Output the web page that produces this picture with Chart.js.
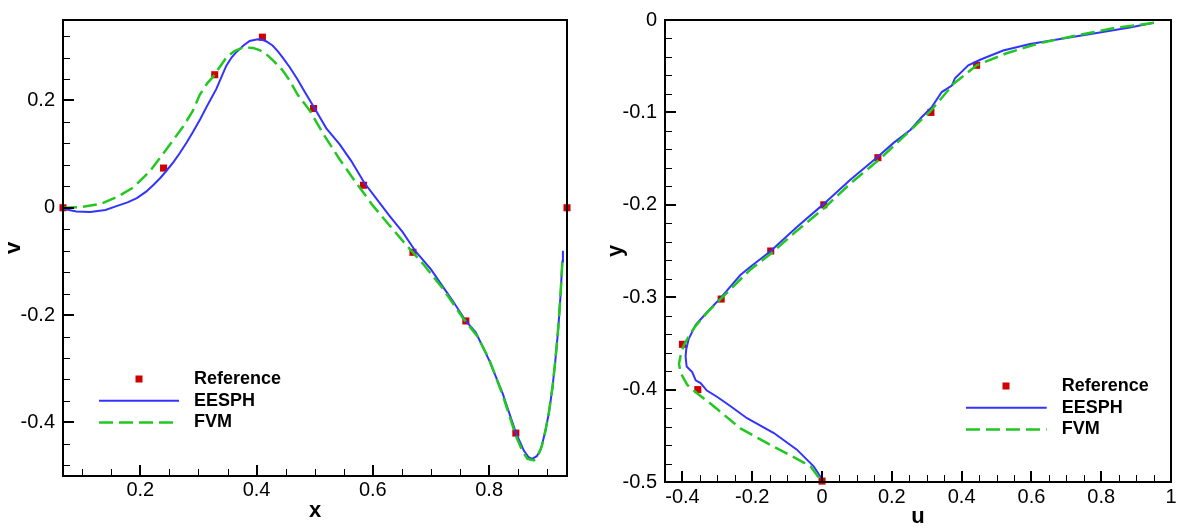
<!DOCTYPE html>
<html>
<head>
<meta charset="utf-8">
<script src="https://cdn.jsdelivr.net/npm/chart.js@4.4.1/dist/chart.umd.min.js"></script>
<style>
  html, body { margin: 0; padding: 0; background: #fff; }
  #wrap { position: relative; width: 1181px; height: 530px; background: #fff; }
  canvas { position: absolute; top: 0; }
</style>
</head>
<body>
<div id="wrap">
  <canvas id="c1" width="590" height="530" style="left:0;width:590px;height:530px"></canvas>
  <canvas id="c2" width="591" height="530" style="left:590px;width:591px;height:530px"></canvas>
</div>
<script>
// ---------- Left panel: v along x ----------
const leftXTicks = [0.2, 0.4, 0.6, 0.8];
const leftYTicks = [-0.4, -0.2, 0, 0.2];
const leftRefX = [0.067, 0.240, 0.328, 0.410, 0.498, 0.584, 0.669, 0.760, 0.846, 0.934];
const leftRefV = [0.000, 0.074, 0.248, 0.318, 0.185, 0.042, -0.083, -0.211, -0.420, 0.000];
const leftEesphX = [0.067,0.090,0.114,0.140,0.159,0.178,0.194,0.210,0.222,0.234,0.245,0.257,0.268,0.280,0.291,0.303,0.314,0.323,0.331,0.340,0.348,0.357,0.365,0.377,0.388,0.402,0.410,0.417,0.428,0.437,0.445,0.457,0.470,0.483,0.500,0.520,0.543,0.563,0.585,0.611,0.628,0.651,0.674,0.700,0.737,0.760,0.777,0.800,0.823,0.846,0.860,0.868,0.874,0.882,0.889,0.896,0.903,0.909,0.914,0.919,0.923,0.926,0.927];
const leftEesphV = [-0.002,-0.007,-0.008,-0.004,0.003,0.010,0.018,0.030,0.042,0.055,0.069,0.085,0.102,0.122,0.142,0.165,0.188,0.206,0.222,0.245,0.265,0.280,0.290,0.302,0.311,0.314,0.313,0.310,0.302,0.291,0.280,0.262,0.240,0.216,0.185,0.148,0.118,0.087,0.047,0.010,-0.014,-0.045,-0.082,-0.115,-0.173,-0.211,-0.232,-0.284,-0.345,-0.419,-0.453,-0.465,-0.468,-0.463,-0.450,-0.420,-0.382,-0.335,-0.284,-0.225,-0.161,-0.100,-0.080];
const leftFvmX = [0.067,0.097,0.131,0.160,0.188,0.217,0.245,0.274,0.290,0.302,0.315,0.325,0.337,0.348,0.362,0.377,0.394,0.405,0.417,0.430,0.445,0.457,0.471,0.491,0.514,0.543,0.571,0.600,0.628,0.657,0.686,0.720,0.754,0.780,0.800,0.823,0.846,0.858,0.866,0.877,0.885,0.891,0.897,0.903,0.909,0.914,0.919,0.923,0.926];
const leftFvmV = [0.000,0.001,0.007,0.020,0.038,0.069,0.109,0.152,0.180,0.210,0.232,0.244,0.263,0.280,0.292,0.299,0.298,0.294,0.286,0.273,0.256,0.237,0.210,0.182,0.139,0.090,0.047,0.004,-0.032,-0.069,-0.104,-0.150,-0.204,-0.240,-0.282,-0.348,-0.425,-0.455,-0.468,-0.471,-0.460,-0.443,-0.415,-0.380,-0.335,-0.284,-0.222,-0.160,-0.100];

// ---------- Right panel: u along y ----------
const rightXTicks = [-0.4, -0.2, 0, 0.2, 0.4, 0.6, 0.8, 1];
const rightYTicks = [-0.5, -0.4, -0.3, -0.2, -0.1, 0];
const rightRefU = [0.443, 0.312, 0.160, 0.005, -0.147, -0.289, -0.400, -0.356, 0.000];
const rightRefY = [-0.049, -0.100, -0.149, -0.200, -0.250, -0.302, -0.351, -0.400, -0.499];
const rightEesphU = [0.951,0.882,0.787,0.691,0.596,0.519,0.453,0.419,0.381,0.372,0.343,0.315,0.286,0.253,0.205,0.160,0.081,0.005,-0.072,-0.147,-0.205,-0.234,-0.291,-0.329,-0.362,-0.382,-0.389,-0.391,-0.388,-0.372,-0.362,-0.348,-0.330,-0.300,-0.262,-0.215,-0.138,-0.072,-0.024,0.000];
const rightEesphY = [-0.003,-0.008,-0.014,-0.020,-0.026,-0.033,-0.043,-0.049,-0.063,-0.071,-0.078,-0.094,-0.105,-0.119,-0.133,-0.148,-0.173,-0.199,-0.224,-0.250,-0.267,-0.276,-0.301,-0.316,-0.330,-0.345,-0.356,-0.364,-0.375,-0.381,-0.390,-0.393,-0.401,-0.408,-0.418,-0.431,-0.447,-0.465,-0.483,-0.497];
const rightFvmU = [0.951,0.834,0.739,0.624,0.529,0.443,0.377,0.310,0.243,0.167,0.081,0.005,-0.072,-0.147,-0.205,-0.291,-0.330,-0.362,-0.377,-0.396,-0.405,-0.410,-0.405,-0.386,-0.358,-0.320,-0.234,-0.157,-0.081,-0.033,0.000];
const rightFvmY = [-0.003,-0.009,-0.016,-0.025,-0.036,-0.049,-0.069,-0.099,-0.123,-0.150,-0.177,-0.204,-0.228,-0.253,-0.270,-0.302,-0.317,-0.331,-0.339,-0.352,-0.363,-0.372,-0.382,-0.395,-0.404,-0.415,-0.442,-0.458,-0.473,-0.483,-0.500];

const seriesLabels = ['Reference', 'EESPH', 'FVM'];
const RED = '#d00000', BLUE = '#3333ff', GREEN = '#22c822';
const FONT = "'Liberation Sans', Arial, sans-serif";

function pts(xs, ys) { return xs.map((x, i) => ({ x: x, y: ys[i] })); }
function minorRange(a, b, step, majors) {
  const out = [];
  const n = Math.round((b - a) / step);
  for (let i = 0; i <= n; i++) {
    const v = +(a + i * step).toFixed(4);
    if (!majors.some(m => Math.abs(m - v) < 1e-6)) out.push(v);
  }
  return out;
}
function fmt(v) { return String(+(+v).toFixed(2)); }

const decorPlugin = {
  id: 'decor',
  afterDraw(chart, args, o) {
    const ctx = chart.ctx, a = chart.chartArea;
    const xs = chart.scales.x, ys = chart.scales.y;
    ctx.save();
    ctx.strokeStyle = '#000';
    ctx.lineCap = 'butt';
    ctx.lineWidth = 2;
    o.yMajor.forEach(v => { const p = Math.round(ys.getPixelForValue(v)); ctx.beginPath(); ctx.moveTo(a.left, p); ctx.lineTo(a.left + o.majorLen, p); ctx.stroke(); });
    o.xMajor.forEach(v => { const p = Math.round(xs.getPixelForValue(v)); ctx.beginPath(); ctx.moveTo(p, a.bottom); ctx.lineTo(p, a.bottom - o.majorLen); ctx.stroke(); });
    ctx.lineWidth = 1;
    o.yMinor.forEach(v => { const p = Math.round(ys.getPixelForValue(v)) + 0.5; ctx.beginPath(); ctx.moveTo(a.left, p); ctx.lineTo(a.left + o.minorLen, p); ctx.stroke(); });
    o.xMinor.forEach(v => { const p = Math.round(xs.getPixelForValue(v)) + 0.5; ctx.beginPath(); ctx.moveTo(p, a.bottom); ctx.lineTo(p, a.bottom - o.minorLen); ctx.stroke(); });
    ctx.lineWidth = 2;
    ctx.strokeRect(a.left, a.top, a.right - a.left, a.bottom - a.top);
    const L = o.legend;
    chart.data.datasets.forEach((ds, i) => {
      const y = L.y + i * L.rowGap;
      if (ds.showLine === false) {
        ctx.fillStyle = ds.backgroundColor;
        ctx.fillRect(L.markerX - 3.5, y - 3.5, 7, 7);
      } else {
        ctx.strokeStyle = ds.borderColor;
        ctx.lineWidth = ds.borderWidth;
        ctx.setLineDash(ds.borderDash || []);
        ctx.beginPath(); ctx.moveTo(L.lineX0, y); ctx.lineTo(L.lineX1, y); ctx.stroke();
        ctx.setLineDash([]);
      }
      ctx.fillStyle = '#000';
      ctx.font = 'bold 18px ' + FONT;
      ctx.textBaseline = 'middle';
      ctx.textAlign = 'left';
      ctx.fillText(ds.label, L.textX, y);
    });
    ctx.restore();
  }
};

function datasets(refX, refY, eX, eY, fX, fY) {
  return [
    { label: seriesLabels[0], data: pts(refX, refY), showLine: false, pointStyle: 'rect', pointRadius: 5, pointBackgroundColor: RED, backgroundColor: RED, pointBorderWidth: 0, borderWidth: 0, order: 3, clip: false },
    { label: seriesLabels[1], data: pts(eX, eY), showLine: true, pointRadius: 0, borderColor: BLUE, borderWidth: 2, tension: 0, order: 2, clip: false },
    { label: seriesLabels[2], data: pts(fX, fY), showLine: true, pointRadius: 0, borderColor: GREEN, borderWidth: 2.5, borderDash: [14, 6], tension: 0, order: 1, clip: false }
  ];
}

function scaleCfg(min, max, ticksArr, title, titlePad, fitSize, isY, pad) {
  return {
    type: 'linear', min: min, max: max,
    afterBuildTicks: s => { s.ticks = ticksArr.map(v => ({ value: v })); },
    afterFit: s => { if (isY) s.width = fitSize; else s.height = fitSize; },
    grid: { display: false, drawTicks: false },
    border: { display: false },
    ticks: { font: { family: FONT, size: 20 }, color: '#000', padding: pad, maxRotation: 0, autoSkip: false, callback: v => fmt(v) },
    title: { display: true, text: title, color: '#000', font: { family: FONT, size: 22, weight: 'bold' }, padding: titlePad }
  };
}

Chart.defaults.animation = false;

new Chart(document.getElementById('c1'), {
  type: 'scatter',
  data: { datasets: datasets(leftRefX, leftRefV, leftEesphX, leftEesphV, leftFvmX, leftFvmV) },
  options: {
    responsive: false, animation: false,
    layout: { padding: { top: 16, right: 23, left: 0, bottom: 0 } },
    scales: {
      x: scaleCfg(0.067, 0.934, leftXTicks, 'x', { top: 0, bottom: 6 }, 54, false, 2),
      y: scaleCfg(-0.5, 0.35, leftYTicks, 'v', { top: 1, bottom: 0 }, 63, true, 8)
    },
    plugins: {
      legend: { display: false }, tooltip: { enabled: false },
      decor: {
        xMajor: leftXTicks, yMajor: leftYTicks,
        xMinor: minorRange(0.1, 0.9, 0.05, leftXTicks),
        yMinor: minorRange(-0.48, 0.32, 0.04, leftYTicks),
        majorLen: 11, minorLen: 7,
        legend: { y: 379, rowGap: 21.7, markerX: 139, lineX0: 99, lineX1: 179, textX: 194 }
      }
    }
  },
  plugins: [decorPlugin]
});

new Chart(document.getElementById('c2'), {
  type: 'scatter',
  data: { datasets: datasets(rightRefU, rightRefY, rightEesphU, rightEesphY, rightFvmU, rightFvmY) },
  options: {
    responsive: false, animation: false,
    layout: { padding: { top: 20, right: 10, left: 0, bottom: 0 } },
    scales: {
      x: scaleCfg(-0.45, 1, rightXTicks, 'u', { top: 0, bottom: 0 }, 48, false, 3),
      y: scaleCfg(-0.5, 0, rightYTicks, 'y', { top: 13, bottom: 0 }, 75, true, 8)
    },
    plugins: {
      legend: { display: false }, tooltip: { enabled: false },
      decor: {
        xMajor: rightXTicks, yMajor: rightYTicks,
        xMinor: minorRange(-0.45, 1, 0.05, rightXTicks),
        yMinor: minorRange(-0.5, 0, 0.02, rightYTicks),
        majorLen: 11, minorLen: 7,
        legend: { y: 386, rowGap: 21.7, markerX: 416, lineX0: 376, lineX1: 456.7, textX: 471.7 }
      }
    }
  },
  plugins: [decorPlugin]
});
</script>
</body>
</html>
